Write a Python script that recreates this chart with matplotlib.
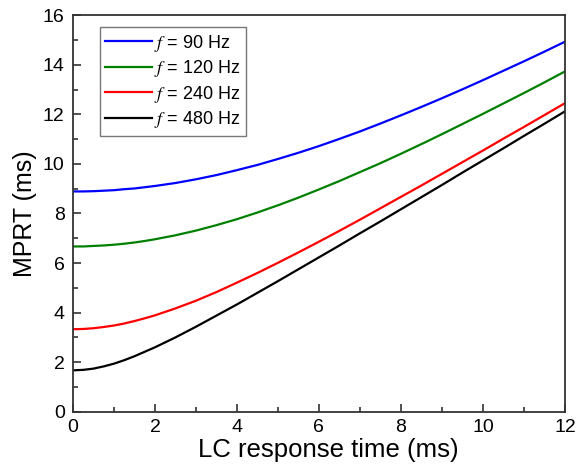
import matplotlib
matplotlib.use("Agg")
import matplotlib.pyplot as plt
from matplotlib.ticker import MultipleLocator

plt.rcParams['font.family'] = ['Liberation Sans', 'DejaVu Sans']
plt.rcParams['mathtext.fontset'] = 'stix'

# LC response time (ms)
tau = [0, 0.25, 0.5, 0.75, 1, 1.25, 1.5, 1.75, 2, 2.5, 3, 3.5, 4, 4.5, 5,
       5.5, 6, 6.5, 7, 7.5, 8, 8.5, 9, 9.5, 10, 10.5, 11, 11.5, 12]

# MPRT (ms)
mprt_90 = [8.89, 8.89, 8.90, 8.92, 8.94, 8.98, 9.01, 9.06, 9.11, 9.23, 9.38,
           9.55, 9.75, 9.96, 10.20, 10.45, 10.72, 11.01, 11.31, 11.63, 11.96,
           12.30, 12.65, 13.01, 13.38, 13.76, 14.14, 14.53, 14.93]
mprt_120 = [6.67, 6.67, 6.69, 6.71, 6.74, 6.78, 6.83, 6.89, 6.96, 7.12, 7.31,
            7.53, 7.77, 8.04, 8.33, 8.64, 8.97, 9.31, 9.67, 10.03, 10.41,
            10.80, 11.20, 11.61, 12.02, 12.44, 12.86, 13.29, 13.73]
mprt_240 = [3.33, 3.34, 3.37, 3.42, 3.48, 3.56, 3.66, 3.77, 3.89, 4.17, 4.48,
            4.83, 5.21, 5.60, 6.01, 6.43, 6.86, 7.30, 7.75, 8.21, 8.67, 9.13,
            9.60, 10.07, 10.54, 11.02, 11.49, 11.97, 12.45]
mprt_480 = [1.67, 1.69, 1.74, 1.83, 1.94, 2.08, 2.24, 2.42, 2.60, 3.00, 3.43,
            3.88, 4.33, 4.80, 5.27, 5.75, 6.23, 6.71, 7.20, 7.68, 8.17, 8.66,
            9.15, 9.65, 10.14, 10.63, 11.13, 11.62, 12.12]

labels = ['$f$ = 90 Hz', '$f$ = 120 Hz', '$f$ = 240 Hz', '$f$ = 480 Hz']
colors = ['#0000ff', '#008000', '#ff0000', '#000000']

fig = plt.figure(figsize=(5.77, 4.76), dpi=100)
ax = fig.add_axes([0.1265, 0.135, 0.8525, 0.833])

for y, lab, c in zip([mprt_90, mprt_120, mprt_240, mprt_480], labels, colors):
    ax.plot(tau, y, color=c, lw=1.6, label=lab)

ax.set_xlim(0, 12)
ax.set_ylim(0, 16)
ax.xaxis.set_major_locator(MultipleLocator(2))
ax.xaxis.set_minor_locator(MultipleLocator(1))
ax.yaxis.set_major_locator(MultipleLocator(2))
ax.yaxis.set_minor_locator(MultipleLocator(1))
ax.tick_params(which='both', direction='in', labelsize=14, width=1.2,
               color='#333333')
ax.tick_params(which='major', length=6)
ax.tick_params(axis='x', which='major', pad=5)
ax.tick_params(axis='y', which='major', pad=6)
ax.tick_params(which='minor', length=3.5)
for s in ax.spines.values():
    s.set_color('#333333')
    s.set_linewidth(1.3)

ax.set_xlabel('LC response time (ms)', fontsize=18.5, labelpad=2, x=0.52)
ax.set_ylabel('MPRT (ms)', fontsize=18, labelpad=4)

leg = ax.legend(loc='upper left', bbox_to_anchor=(0.055, 0.97),
                borderaxespad=0, fontsize=13, fancybox=False,
                edgecolor='#555555', handlelength=2.6, handletextpad=0.1,
                labelspacing=0.25, borderpad=0.3)
leg.get_frame().set_linewidth(1.0)

fig.savefig('out.png', dpi=100)
